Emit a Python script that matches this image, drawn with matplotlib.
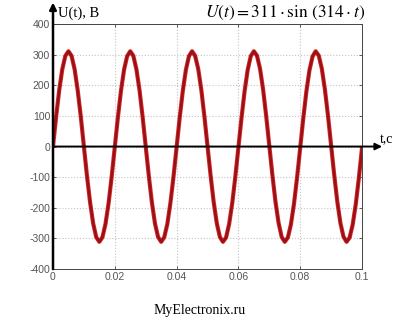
import numpy as np
from matplotlib import pyplot as plt

# time samples (s) and voltage (V)
t_ms = list(range(0, 101))
u_volts = [0, 96, 183, 252, 296, 311, 296, 252, 183, 97,
           0, -96, -182, -251, -296, -311, -296, -252, -184, -97,
           -1, 95, 182, 251, 295, 311, 296, 252, 184, 97,
           1, -95, -182, -251, -295, -311, -296, -253, -184, -98,
           -2, 94, 181, 250, 295, 311, 296, 253, 185, 98,
           2, -94, -181, -250, -295, -311, -297, -253, -185, -99,
           -3, 93, 180, 250, 295, 311, 297, 254, 186, 99,
           3, -93, -180, -249, -295, -311, -297, -254, -186, -100,
           -4, 92, 180, 249, 294, 311, 297, 254, 186, 100,
           4, -92, -179, -249, -294, -311, -297, -254, -187, -101,
           -5]
x_ticks = [0, 0.02, 0.04, 0.06, 0.08, 0.1]
x_ticklabels = ['0', '0.02', '0.04', '0.06', '0.08', '0.1']
y_ticks = [-400, -300, -200, -100, 0, 100, 200, 300, 400]

plt.rcParams['axes.unicode_minus'] = False
plt.rcParams['mathtext.fontset'] = 'stix'

fig = plt.figure(figsize=[4, 3.27], dpi=100)
fig.patch.set_facecolor('w')
ax = fig.add_axes([0.1325, 0.177, 0.7725, 0.7497])

t = np.array(t_ms) / 1000.0
u = np.array(u_volts)
ax.plot(t, u, c='#d42a2a', lw=3.0, solid_capstyle='round', zorder=4)
ax.plot(t, u, c='#9a1015', lw=1.8, solid_capstyle='round', zorder=5)

ax.set_xlim(0, 0.1)
ax.set_ylim(-400, 400)
ax.set_xticks(x_ticks)
ax.set_xticklabels(x_ticklabels)
ax.set_yticks(y_ticks)
ax.tick_params(direction='in', length=2.5, width=0.6, labelsize=7.5,
               labelcolor='#555555', color='#444444', top=True, right=True,
               pad=2)
for lab in ax.get_xticklabels() + ax.get_yticklabels():
    lab.set_fontfamily('Liberation Sans')
ax.grid(ls=':', lw=0.8, color='#c4c4c4')

for side in ['top', 'right', 'bottom']:
    ax.spines[side].set_color('#444444')
    ax.spines[side].set_linewidth(0.7)
ax.spines['left'].set_visible(False)

# axis arrows
ax.annotate('', xy=(0.1065, 0), xytext=(0, 0), xycoords='data',
            arrowprops=dict(arrowstyle='-|>', color='k', lw=1.4,
                            mutation_scale=10, shrinkA=0, shrinkB=0),
            annotation_clip=False, zorder=6)
ax.annotate('', xy=(0, 470), xytext=(0, -400), xycoords='data',
            arrowprops=dict(arrowstyle='-|>', color='k', lw=1.8,
                            mutation_scale=10, shrinkA=0, shrinkB=0),
            annotation_clip=False, zorder=6)

fig.text(0.145, 0.96, 'U(t), B', family='Liberation Serif', size=10.5,
         ha='left', va='center')
fig.text(0.95, 0.573, 't,c', family='Liberation Serif', size=10,
         ha='left', va='center')
fig.text(0.713, 0.962, r'$U(t) = 311 \cdot \sin\,(314 \cdot t)$', size=12.5,
         ha='center', va='center')
fig.text(0.5, 0.05, 'MyElectronix.ru', family='Liberation Serif', size=10,
         ha='center', va='center')

plt.savefig('out.png', dpi=100)
